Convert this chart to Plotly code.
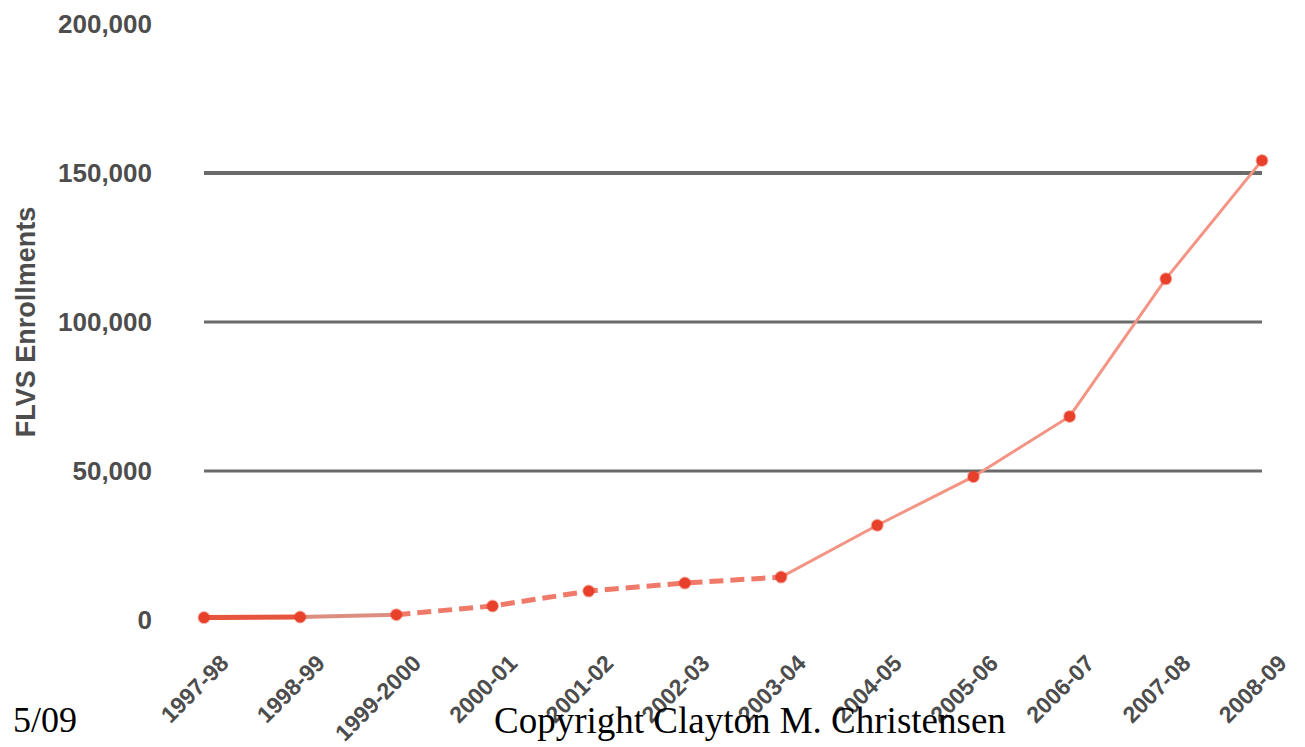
import plotly.graph_objects as go

years = ["1997-98", "1998-99", "1999-2000", "2000-01", "2001-02", "2002-03",
         "2003-04", "2004-05", "2005-06", "2006-07", "2007-08", "2008-09"]
enrollments = [800, 1000, 1800, 4700, 9700, 12400, 14400, 31800, 48100, 68300, 114500, 154200]

y_ticks = [0, 50000, 100000, 150000, 200000]
y_tick_text = ["0", "50,000", "100,000", "150,000", "200,000"]
grid_values = [50000, 100000, 150000]
grid_widths = [3, 3, 4]

fig = go.Figure()

# segment styles (as in the reference rendering)
segments = [
    (0, 2, dict(color="#e8553f", width=5, dash="solid")),
    (1, 3, dict(color="#dc8f80", width=4, dash="solid")),
    (2, 7, dict(color="#f07a6a", width=5, dash="14px,7px")),
    (6, 12, dict(color="#f49484", width=3, dash="solid")),
]
for a, b, ln in segments:
    fig.add_trace(go.Scatter(x=years[a:b], y=enrollments[a:b], mode="lines",
                             line=ln, hoverinfo="skip", showlegend=False,
                             cliponaxis=False))

fig.add_trace(go.Scatter(x=years, y=enrollments, mode="markers",
                         marker=dict(color="#e8412b", size=11,
                                     line=dict(color="rgba(232,65,43,0.4)", width=2)),
                         showlegend=False, cliponaxis=False))

for gv, gw in zip(grid_values, grid_widths):
    fig.add_shape(type="line", xref="paper", yref="y", x0=0, x1=1, y0=gv, y1=gv,
                  line=dict(color="#6a6a6a", width=gw), layer="below")

tick_font = dict(color="#4d4d4d", family="Liberation Sans, Arial", weight="bold")

fig.update_layout(
    width=1297, height=739,
    margin=dict(l=196, r=43, t=16, b=127, autoexpand=False),
    paper_bgcolor="white", plot_bgcolor="white",
    font=dict(family="Liberation Sans, Arial, sans-serif"),
    xaxis=dict(type="category", range=[0, 11], showgrid=False, zeroline=False,
               showline=False, tickangle=-45, ticklabelstandoff=24, ticklabelshift=18,
               automargin=False,
               tickfont=dict(size=23, **tick_font)),
    yaxis=dict(range=[0, 200000], tickvals=y_ticks, ticktext=y_tick_text,
               showgrid=False, zeroline=False, showline=False,
               ticklabelstandoff=51, automargin=False,
               tickfont=dict(size=26, **tick_font),
               title=dict(text="FLVS Enrollments", standoff=14,
                          font=dict(size=27, **tick_font))),
    annotations=[
        dict(text="5/09", xref="paper", yref="paper", x=-0.1825, y=-0.168,
             xanchor="left", yanchor="middle", showarrow=False,
             font=dict(family="Liberation Serif, Times New Roman, serif", size=36, color="black")),
        dict(text="Copyright Clayton M. Christensen", xref="paper", yref="paper",
             x=0.5156, y=-0.168, xanchor="center", yanchor="middle", showarrow=False,
             font=dict(family="Liberation Serif, Times New Roman, serif", size=37, color="black")),
    ],
)

fig.write_html("out.html")
